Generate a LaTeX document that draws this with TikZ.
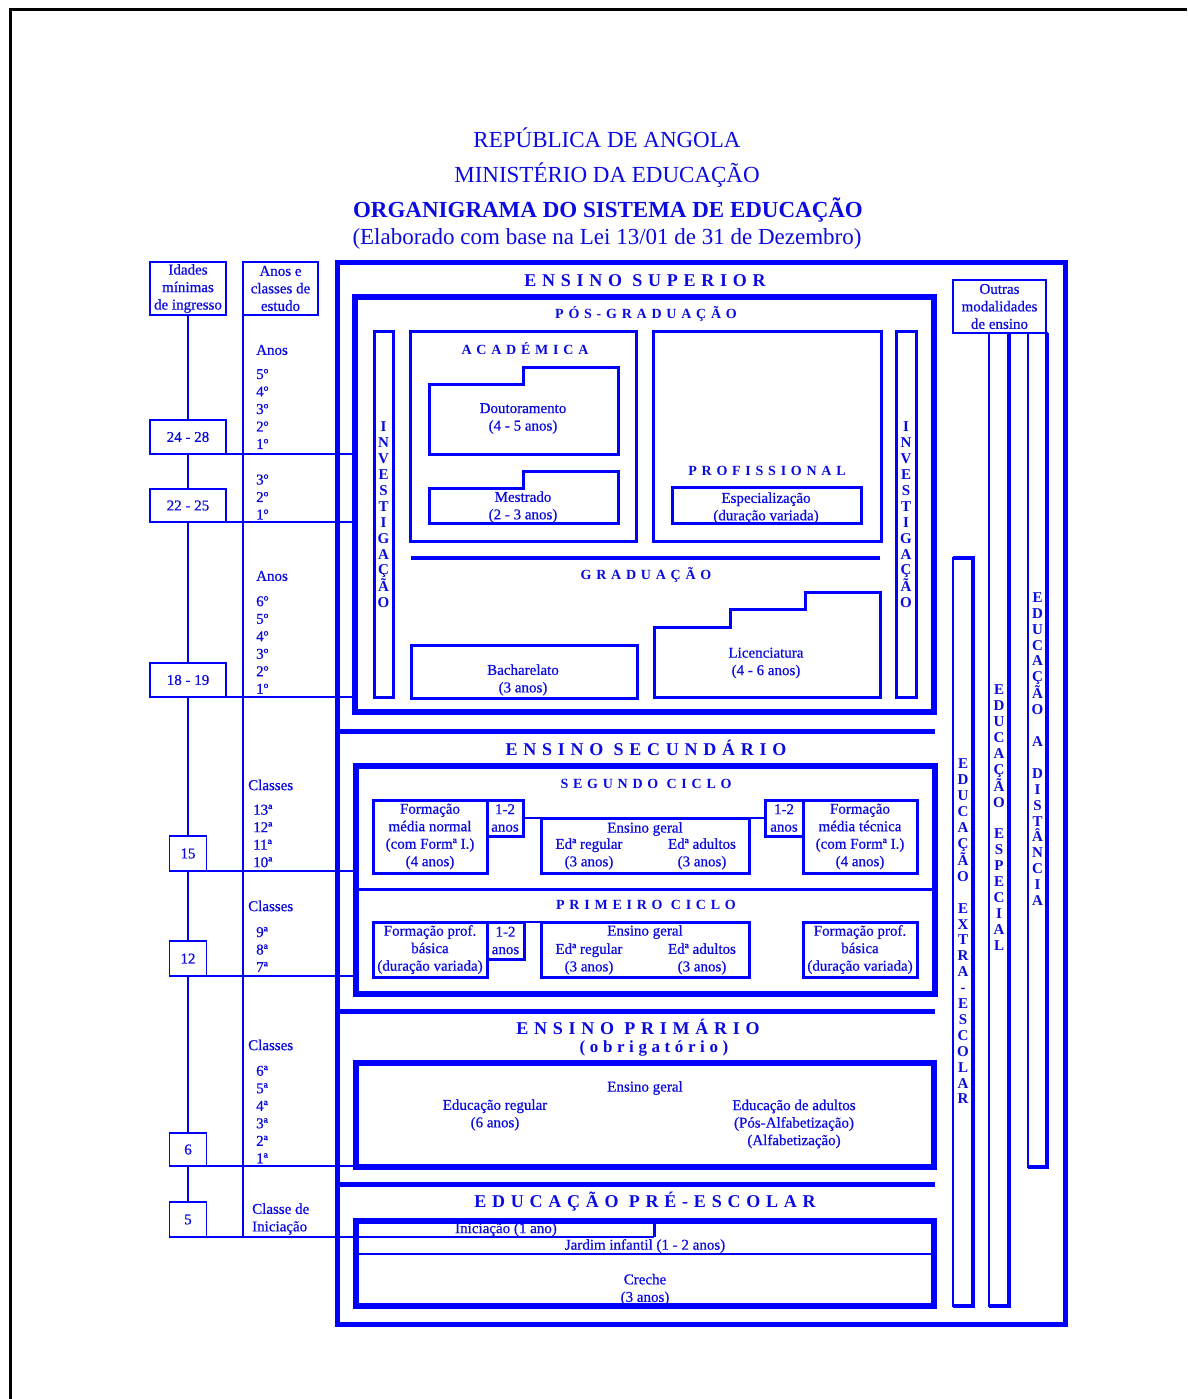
\documentclass[tikz,border=0pt]{standalone}
\usepackage{fontspec}
\setmainfont{Liberation Serif}
\newfontfamily\bodyfam[FakeBold=0.6]{Liberation Serif}
\newfontfamily\hdfamA[LetterSpace=32]{Liberation Serif}
\newfontfamily\hdfamB[LetterSpace=34]{Liberation Serif}
\newfontfamily\hdfamC[LetterSpace=27]{Liberation Serif}
\definecolor{bl}{RGB}{0,0,255}
\definecolor{tb}{RGB}{10,10,225}
\newcommand\fBody{\bodyfam\fontsize{15}{17.5}\selectfont}
\newcommand\fTitle{\fontsize{23}{27}\selectfont}
\newcommand\fHdBig{\hdfamA\bfseries\fontsize{18}{20}\selectfont}
\newcommand\fHdSm{\hdfamB\bfseries\fontsize{14}{16}\selectfont}
\newcommand\fHdOb{\hdfamC\bfseries\fontsize{17}{20}\selectfont}
\newcommand\fVert{\bfseries\fontsize{15}{15.9}\selectfont}
\begin{document}
\begin{tikzpicture}[x=1pt,y=-1pt,
  thinl/.style={draw=bl,line width=1.3pt},
  medl/.style={draw=bl,line width=3pt},
  sepl/.style={draw=bl,line width=5pt},
  heavybox/.style={draw=bl,line width=6pt,inner sep=0pt,outer sep=0pt},
  medbox/.style={draw=bl,line width=3pt,inner sep=0pt,outer sep=0pt,text=tb,font=\fBody,align=center},
  thinbox/.style={draw=bl,line width=1.3pt,inner sep=0pt,outer sep=0pt,text=tb,font=\fBody,align=center},
  txt/.style={text=tb,font=\fBody,align=center,inner sep=0pt},
  ltxt/.style={text=tb,font=\fBody,align=left,inner sep=0pt,anchor=west},
  hdA/.style={text=tb,font=\fHdBig,inner sep=0pt,text height=12pt,text depth=0pt},
  hdB/.style={text=tb,font=\fHdSm,inner sep=0pt,text height=9.3pt,text depth=0pt},
  hdC/.style={text=tb,font=\fHdOb,inner sep=0pt,text height=11pt,text depth=0pt},
  vt/.style={text=tb,font=\fVert,align=center,inner sep=0pt},
  ttl/.style={text=tb,font=\fTitle,inner sep=0pt,text height=15.2pt,text depth=0pt}]

\useasboundingbox (0,0) rectangle (1187,1399);
\fill[white] (0,0) rectangle (1187,1399);
% page border
\draw[black,line width=3pt] (10,1399) -- (10,10) -- (1187,10);

% titles
\node[ttl] (t1) at (607,140) {REPÚBLICA DE ANGOLA};
\node[ttl] (t2) at (607,175) {MINISTÉRIO DA EDUCAÇÃO};
\node[ttl,font={\fTitle\bfseries}] (t3) at (608,210) {ORGANIGRAMA DO SISTEMA DE EDUCAÇÃO};
\node[ttl] (t4) at (607,237) {(Elaborado com base na Lei 13/01 de 31 de Dezembro)};

% main frame
\node[draw=bl,line width=5pt,inner sep=0pt,outer sep=0pt,minimum width=727.5pt,minimum height=1062pt] (frame) at (701.25,793.5) {};
\draw[sepl] (340,731) -- (935,731);
\draw[sepl] (340,1011) -- (935,1011);
\draw[sepl] (340,1184.5) -- (935,1184.5);

% section boxes
\node[heavybox,minimum width=579pt,minimum height=415pt] (pg) at (644.5,504.5) {};
\node[heavybox,minimum width=579.5pt,minimum height=227.5pt] (sec) at (645.25,879.75) {};
\node[heavybox,minimum width=578pt,minimum height=103.5pt] (pri) at (645,1114.75) {};
\node[heavybox,minimum width=578pt,minimum height=85.5pt] (pre) at (645,1263.25) {};

% headings
\node[hdA] (hSup) at (645,280) {ENSINO SUPERIOR};
\node[hdB] (hPG) at (646,314) {PÓS-GRADUAÇÃO};
\node[hdB] (hAc) at (525,350) {ACADÉMICA};
\node[hdB] (hPr) at (767,471) {PROFISSIONAL};
\node[hdB] (hGr) at (646,575) {GRADUAÇÃO};
\node[hdA] (hSec) at (646,749) {ENSINO SECUNDÁRIO};
\node[hdB] (hSC) at (646,784) {SEGUNDO CICLO};
\node[hdB] (hPC) at (646,905) {PRIMEIRO CICLO};
\node[hdA] (hPri) at (638,1028) {ENSINO PRIMÁRIO};
\node[hdC] (hObr) at (654,1047) {(obrigatório)};
\node[hdA] (hPre) at (645,1201) {EDUCAÇÃO PRÉ-ESCOLAR};

% ---- Ensino superior ----
\node[medbox,minimum width=19pt,minimum height=366pt] (invL) at (383.5,514) {};
\node[medbox,minimum width=20pt,minimum height=366pt] (invR) at (906,514) {};
\node[vt] (vInvL) at (383.5,515) {I\\N\\V\\E\\S\\T\\I\\G\\A\\Ç\\Ã\\O};
\node[vt] (vInvR) at (906,515) {I\\N\\V\\E\\S\\T\\I\\G\\A\\Ç\\Ã\\O};

\node[medbox,minimum width=226pt,minimum height=210pt] (acad) at (523,436) {};
\node[medbox,minimum width=228pt,minimum height=210pt] (prof) at (767,436) {};
\draw[medl] (429,384) -- (523,384) -- (523,367) -- (618,367) -- (618,454) -- (429,454) -- cycle;
\node[txt] (dout) at (523,418.5) {Doutoramento\\(4 - 5 anos)};
\draw[medl] (429,488) -- (523,488) -- (523,471) -- (618,471) -- (618,523) -- (429,523) -- cycle;
\node[txt] (mest) at (523,507) {Mestrado\\(2 - 3 anos)};
\node[medbox,minimum width=189pt,minimum height=36pt] (esp) at (766.5,505) {};
\node[txt] (espT) at (766,508) {Especialização\\(duração variada)};

\draw[draw=bl,line width=3.5pt] (411,558) -- (880,558);
\node[medbox,minimum width=226pt,minimum height=53pt] (bach) at (524,671.5) {};
\node[txt] (bachT) at (523,680) {Bacharelato\\(3 anos)};
\draw[medl] (654,697) -- (654,627) -- (730,627) -- (730,609) -- (805,609) -- (805,592) -- (880,592) -- (880,697) -- cycle;
\node[txt] (licT) at (766,663) {Licenciatura\\(4 - 6 anos)};

% ---- Ensino secundario ----
\draw[medl] (358,889) -- (932,889);
\node[medbox,minimum width=114pt,minimum height=73pt] (fmn) at (430,836.5) {Formação\\média normal\\(com Formª I.)\\(4 anos)};
\node[medbox,minimum width=36pt,minimum height=36pt] (c2l) at (505,818) {1-2\\anos};
\node[medbox,minimum width=208pt,minimum height=55pt] (eg2) at (645,845.5) {};
\node[medbox,minimum width=38pt,minimum height=36pt] (c2r) at (784,818) {1-2\\anos};
\node[medbox,minimum width=114pt,minimum height=73pt] (fmt) at (860,836.5) {Formação\\média técnica\\(com Formª I.)\\(4 anos)};
\node[txt] (eg2a) at (645,829) {Ensino geral};
\node[txt] (eg2b) at (589,854) {Edª regular\\(3 anos)};
\node[txt] (eg2c) at (702,854) {Edª adultos\\(3 anos)};
\draw[thinl] (c2l.east) -- (c2l.east -| eg2.west);
\draw[thinl] (eg2.east |- c2r.west) -- (c2r.west);

\node[medbox,minimum width=114pt,minimum height=55pt] (fpbL) at (430,949.5) {Formação prof.\\básica\\(duração variada)};
\node[medbox,minimum width=37pt,minimum height=37pt] (c1l) at (505.5,940.5) {1-2\\anos};
\node[medbox,minimum width=208pt,minimum height=55pt] (eg1) at (645,949.5) {};
\node[medbox,minimum width=114pt,minimum height=55pt] (fpbR) at (860,949.5) {Formação prof.\\básica\\(duração variada)};
\node[txt] (eg1a) at (645,932) {Ensino geral};
\node[txt] (eg1b) at (589,959) {Edª regular\\(3 anos)};
\node[txt] (eg1c) at (702,959) {Edª adultos\\(3 anos)};
\draw[thinl] (c1l.north east) -- (eg1.north west);

% ---- Ensino primario ----
\node[txt] (priA) at (645,1088) {Ensino geral};
\node[txt] (priB) at (495,1115) {Educação regular\\(6 anos)};
\node[txt] (priC) at (794,1124) {Educação de adultos\\(Pós-Alfabetização)\\(Alfabetização)};

% ---- Pre-escolar ----
\coordinate (iniEnd) at (654,1237);
\draw[medl] (654,1223) -- (iniEnd);
\draw[draw=bl,line width=2.5pt] (359,1254) -- (931,1254);
\node[txt] (preA) at (506,1229.5) {Iniciação (1 ano)};
\node[txt] (preB) at (645,1246) {Jardim infantil (1 - 2 anos)};
\node[txt] (preC) at (645,1289.5) {Creche\\(3 anos)};

% ---- left scale ----
\node[thinbox,minimum width=76pt,minimum height=53pt] (idades) at (188,288.5) {Idades\\mínimas\\de ingresso};
\node[thinbox,minimum width=75pt,minimum height=53pt] (anos) at (280.5,288.5) {Anos e\\classes de\\estudo};
\node[thinbox,minimum width=76pt,minimum height=34pt] (a2428) at (188,437) {24 - 28};
\node[thinbox,minimum width=76pt,minimum height=33pt] (a2225) at (188,505.5) {22 - 25};
\node[thinbox,minimum width=76pt,minimum height=34pt] (a1819) at (188,680) {18 - 19};
\node[thinbox,minimum width=37pt,minimum height=35pt] (a15) at (188,853.5) {15};
\node[thinbox,minimum width=37pt,minimum height=35pt] (a12) at (188,958.5) {12};
\node[thinbox,minimum width=37pt,minimum height=33pt] (a6) at (188,1149.5) {6};
\node[thinbox,minimum width=37pt,minimum height=35pt] (a5) at (188,1219.5) {5};

\draw[thinl] (idades) -- (a2428);
\draw[thinl] (a2428) -- (a2225);
\draw[thinl] (a2225) -- (a1819);
\draw[thinl] (a1819) -- (a15);
\draw[thinl] (a15) -- (a12);
\draw[thinl] (a12) -- (a6);
\draw[thinl] (a6) -- (a5);
\coordinate (anosEnd) at (243,1237);
\draw[thinl] (anos.south west) -- (anosEnd);
\draw[thinl] (a2428.south east) -- (a2428.south east -| pg.west);
\draw[thinl] (a2225.south east) -- (a2225.south east -| pg.west);
\draw[thinl] (a1819.south east) -- (a1819.south east -| pg.west);
\draw[thinl] (a15.south east) -- (a15.south east -| sec.west);
\draw[thinl] (a12.south east) -- (a12.south east -| sec.west);
\draw[thinl] (a6.south east) -- (a6.south east -| pri.west);
\draw[thinl] (a5.south east) -- (iniEnd);

\node[ltxt] (lAnos1) at (256,350) {Anos};
\node[ltxt] (lA1) at (256,409) {5º\\4º\\3º\\2º\\1º};
\node[ltxt] (lA2) at (256,497) {3º\\2º\\1º};
\node[ltxt] (lAnos2) at (256,576) {Anos};
\node[ltxt] (lA3) at (256,645) {6º\\5º\\4º\\3º\\2º\\1º};
\node[ltxt] (lC1) at (248,785) {Classes};
\node[ltxt] (lC1n) at (253,836) {13ª\\12ª\\11ª\\10ª};
\node[ltxt] (lC2) at (248,906) {Classes};
\node[ltxt] (lC2n) at (256,949.5) {9ª\\8ª\\7ª};
\node[ltxt] (lC3) at (248,1045) {Classes};
\node[ltxt] (lC3n) at (256,1114.5) {6ª\\5ª\\4ª\\3ª\\2ª\\1ª};
\node[ltxt] (lCI) at (252,1219) {Classe de\\Iniciação};

% ---- right columns ----
\node[thinbox,minimum width=93pt,minimum height=53pt] (outras) at (999.5,306.5) {Outras\\modalidades\\de ensino};
\node[thinbox,minimum width=20pt,minimum height=748pt] (colX) at (963,932) {};
\node[thinbox,minimum width=20pt,minimum height=973pt] (colE) at (999,819.5) {};
\node[thinbox,minimum width=19pt,minimum height=834pt] (colD) at (1037.5,750) {};
\draw[draw=bl,line width=4pt] (colX.north west) -- (colX.north east) -- (colX.south east) -- (colX.south west);
\draw[draw=bl,line width=4pt] (colE.north east) -- (colE.south east) -- (colE.south west);
\draw[draw=bl,line width=4pt] (colD.north east) -- (colD.south east) -- (colD.south west);
\node[vt] (vX) at (963,931.5) {E\\D\\U\\C\\A\\Ç\\Ã\\O\\[15.9pt]E\\X\\T\\R\\A\\-\\E\\S\\C\\O\\L\\A\\R};
\node[vt] (vE) at (999,817.5) {E\\D\\U\\C\\A\\Ç\\Ã\\O\\[15.9pt]E\\S\\P\\E\\C\\I\\A\\L};
\node[vt] (vD) at (1037.5,749) {E\\D\\U\\C\\A\\Ç\\Ã\\O\\[15.9pt]A\\[15.9pt]D\\I\\S\\T\\Â\\N\\C\\I\\A};
\end{tikzpicture}
\end{document}
